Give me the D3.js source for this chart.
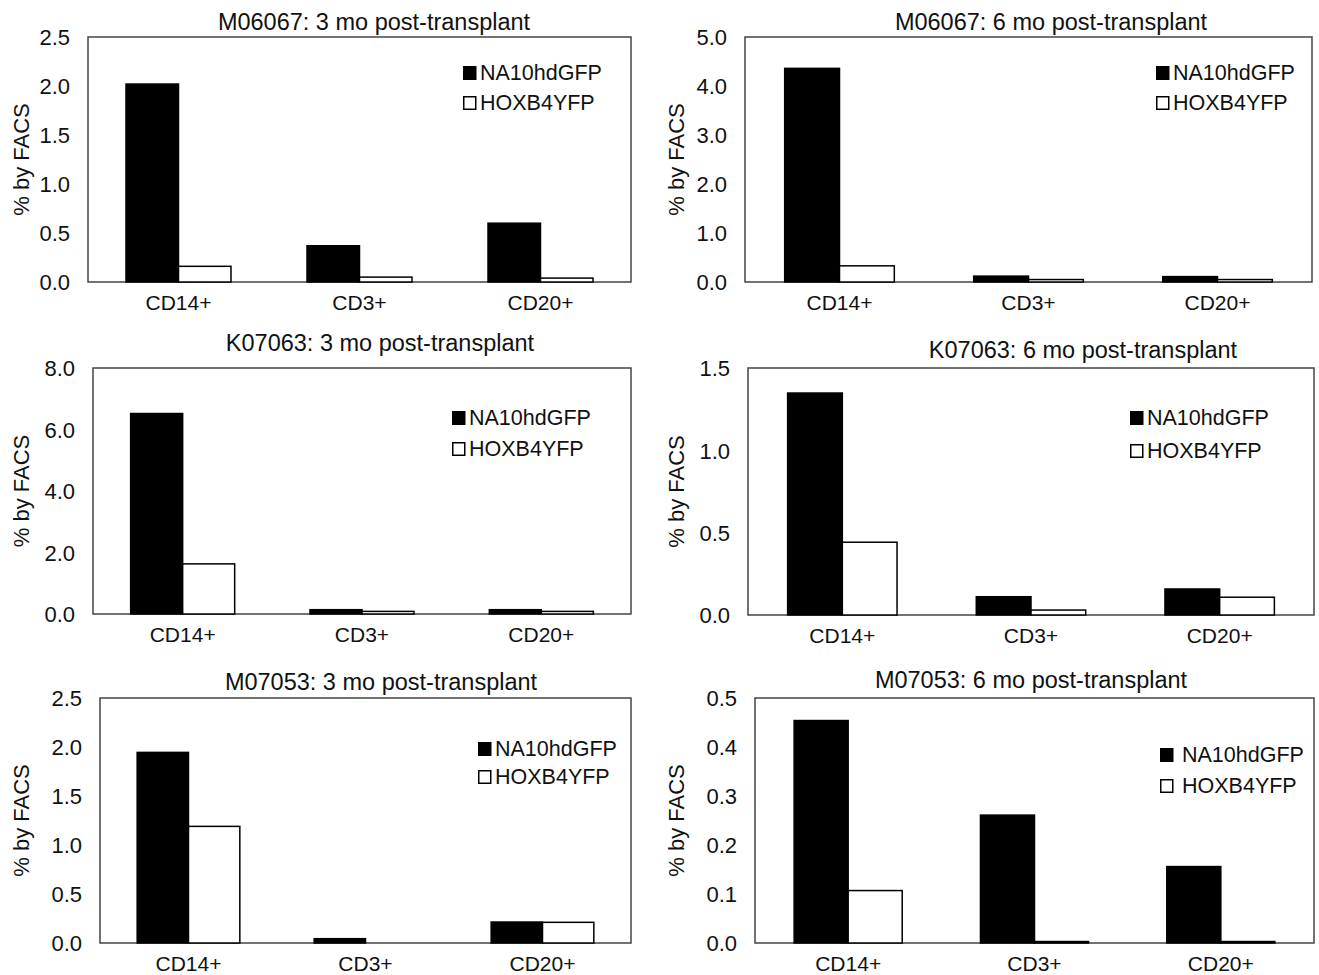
<!DOCTYPE html>
<html>
<head>
<meta charset="utf-8">
<script src="https://cdn.jsdelivr.net/npm/d3@7"></script>
<style>
  html, body { margin: 0; padding: 0; background: #fff; }
  svg { display: block; }
  text { font-family: "Liberation Sans", Arial, Helvetica, sans-serif; fill: #111; }
</style>
</head>
<body>
<svg id="chart" width="1319" height="975"></svg>
<script>
// ---- data ----
const categories = ["CD14+", "CD3+", "CD20+"];
const seriesNames = ["NA10hdGFP", "HOXB4YFP"];
const panelTitles = [
  "M06067: 3 mo post-transplant",
  "M06067: 6 mo post-transplant",
  "K07063: 3 mo post-transplant",
  "K07063: 6 mo post-transplant",
  "M07053: 3 mo post-transplant",
  "M07053: 6 mo post-transplant"
];
const na10Values = [
  [2.02, 0.37, 0.60],
  [4.36, 0.12, 0.11],
  [6.52, 0.14, 0.14],
  [1.348, 0.111, 0.158],
  [1.945, 0.044, 0.214],
  [0.454, 0.261, 0.156]
];
const hoxValues = [
  [0.16, 0.05, 0.04],
  [0.33, 0.05, 0.05],
  [1.63, 0.085, 0.085],
  [0.442, 0.030, 0.108],
  [1.19, 0.0, 0.211],
  [0.107, 0.003, 0.003]
];
const yMax = [2.5, 5.0, 8.0, 1.5, 2.5, 0.5];
const yTickStep = [0.5, 1.0, 2.0, 0.5, 0.5, 0.1];
const yAxisLabel = "% by FACS";

// ---- layout (positions only) ----
const layout = [
  {x0: 88,    x1: 631,   y0: 37,    y1: 282,   tx: 374,  ty: 30,  lx: 463,  ly: 80,  ylx: 29},
  {x0: 745,   x1: 1312,  y0: 37,    y1: 282,   tx: 1051, ty: 30,  lx: 1156, ly: 80,  ylx: 684},
  {x0: 93,    x1: 631,   y0: 368,   y1: 614,   tx: 380,  ty: 351, lx: 452,  ly: 425, ylx: 29},
  {x0: 748,   x1: 1314,  y0: 368,   y1: 615,   tx: 1083, ty: 358, lx: 1130, ly: 425, ylx: 684},
  {x0: 100,   x1: 631,   y0: 698,   y1: 943,   tx: 381,  ty: 690, lx: 478,  ly: 756, ylx: 29},
  {x0: 755,   x1: 1314,  y0: 698,   y1: 943,   tx: 1031, ty: 688, lx: 1160, ly: 762, ylx: 684}
];
const legendGap = [30, 30, 31, 33, 28, 31];
const legendTextGap = [4, 4, 4, 4, 4, 9];

const svg = d3.select("#chart");
const fill = {"NA10hdGFP": "#000", "HOXB4YFP": "#fff"};

panelTitles.forEach((title, i) => {
  const L = layout[i];
  const g = svg.append("g");

  const x = d3.scaleBand().domain(categories).range([L.x0, L.x1])
    .paddingInner(0.42).paddingOuter(0.21);
  const xs = d3.scaleBand().domain(seriesNames).range([0, x.bandwidth()]).padding(0);
  const y = d3.scaleLinear().domain([0, yMax[i]]).range([L.y1, L.y0]);

  // box
  g.append("rect")
    .attr("x", L.x0).attr("y", L.y0)
    .attr("width", L.x1 - L.x0).attr("height", L.y1 - L.y0)
    .attr("fill", "#fff").attr("stroke", "#444").attr("stroke-width", 1.5);

  // bars
  const rows = categories.map((c, k) => ({cat: c, vals: [
    {s: "NA10hdGFP", v: na10Values[i][k]},
    {s: "HOXB4YFP", v: hoxValues[i][k]}
  ]}));
  const grp = g.selectAll("g.grp").data(rows).join("g")
    .attr("class", "grp")
    .attr("transform", d => `translate(${x(d.cat)},0)`);
  grp.selectAll("rect").data(d => d.vals.filter(o => o.v > 0)).join("rect")
    .attr("x", d => xs(d.s))
    .attr("y", d => y(d.v))
    .attr("width", xs.bandwidth())
    .attr("height", d => Math.max(0, y(0) - y(d.v)))
    .attr("fill", d => fill[d.s])
    .attr("stroke", "#000").attr("stroke-width", 1.5);

  // y axis
  const ticks = d3.range(0, yMax[i] + yTickStep[i] / 2, yTickStep[i]);
  const ya = g.append("g").attr("transform", `translate(${L.x0},0)`)
    .call(d3.axisLeft(y).tickValues(ticks).tickFormat(d3.format(".1f")).tickSize(0).tickPadding(18));
  ya.select(".domain").remove();
  ya.selectAll("text").style("font-size", "22px").attr("dy", "0.36em")
    .style("font-family", '"Liberation Sans", Arial, sans-serif').attr("fill", "#111");

  // x axis
  const xa = g.append("g").attr("transform", `translate(0,${L.y1})`)
    .call(d3.axisBottom(x).tickSize(0).tickPadding(13));
  xa.select(".domain").remove();
  xa.selectAll("text").style("font-size", "21px")
    .style("font-family", '"Liberation Sans", Arial, sans-serif').attr("fill", "#111");

  // title
  g.append("text").attr("x", L.tx).attr("y", L.ty).attr("text-anchor", "middle")
    .style("font-size", "23.5px").text(title);

  // y label
  g.append("text")
    .attr("transform", `translate(${L.ylx},${(L.y0 + L.y1) / 2}) rotate(-90)`)
    .attr("text-anchor", "middle").style("font-size", "22px").text(yAxisLabel);

  // legend
  seriesNames.forEach((s, k) => {
    const by = L.ly + k * legendGap[i];
    g.append("rect").attr("x", L.lx + 0.75).attr("y", by - 13.25)
      .attr("width", 12).attr("height", 12.5)
      .attr("fill", fill[s]).attr("stroke", "#000").attr("stroke-width", 1.5);
    g.append("text").attr("x", L.lx + 13 + legendTextGap[i]).attr("y", by)
      .style("font-size", "21.5px").text(s);
  });
});
</script>
</body>
</html>
